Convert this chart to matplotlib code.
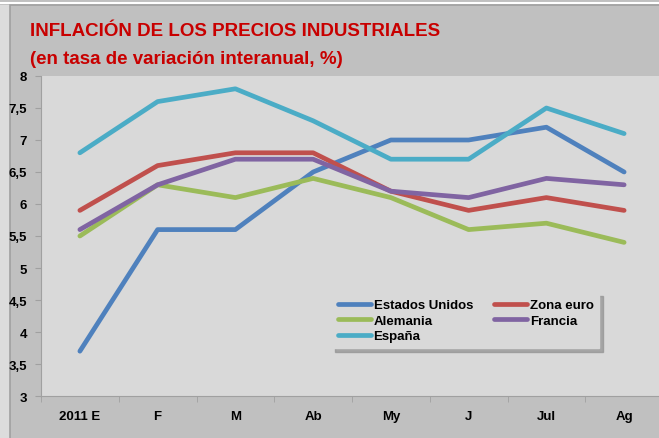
import matplotlib.pyplot as plt
from matplotlib.patches import Rectangle

meses = ['2011 E', 'F', 'M', 'Ab', 'My', 'J', 'Jul', 'Ag']
estados_unidos = [3.7, 5.6, 5.6, 6.5, 7.0, 7.0, 7.2, 6.5]
zona_euro = [5.9, 6.6, 6.8, 6.8, 6.2, 5.9, 6.1, 5.9]
alemania = [5.5, 6.3, 6.1, 6.4, 6.1, 5.6, 5.7, 5.4]
francia = [5.6, 6.3, 6.7, 6.7, 6.2, 6.1, 6.4, 6.3]
espana = [6.8, 7.6, 7.8, 7.3, 6.7, 6.7, 7.5, 7.1]

series = [
    ('Estados Unidos', estados_unidos, '#4F81BD'),
    ('Zona euro', zona_euro, '#C0504D'),
    ('Alemania', alemania, '#9BBB59'),
    ('Francia', francia, '#8064A2'),
    ('España', espana, '#4BACC6'),
]
yticks = [3, 3.5, 4, 4.5, 5, 5.5, 6, 6.5, 7, 7.5, 8]
FONT = 'Liberation Sans'

W, H = 659, 439
fig = plt.figure(figsize=(W / 100, H / 100), dpi=100)
fig.patch.set_facecolor('#c0c0c0')

# chart frame drawn in a background axes
bg = fig.add_axes([0, 0, 1, 1], zorder=-10)
bg.set_xlim(0, W)
bg.set_ylim(H, 0)
bg.axis('off')
bg.add_patch(Rectangle((0, 6), 10, H, facecolor='#dcdcdc', edgecolor='none'))
bg.add_patch(Rectangle((10, 6), W, H, facecolor='#c0c0c0', edgecolor='#a0a0a0', lw=1.2))
bg.plot([0, W], [4.2, 4.2], color='white', lw=1.5)

ax = fig.add_axes([41 / W, (H - 397) / H, (663 - 41) / W, (397 - 77) / H])
ax.set_facecolor('#d9d9d9')

x = range(len(meses))
lines = {}
for name, vals, col in series:
    lines[name], = ax.plot(x, vals, color=col, lw=3.4, label=name, solid_capstyle='round')

ax.set_xlim(-0.5, len(meses) - 0.5)
ax.set_ylim(3, 8)
ax.set_yticks(yticks)
ax.set_yticklabels([('%g' % v).replace('.', ',') for v in yticks])
ax.set_xticks(x)
ax.set_xticklabels(meses)
ax.set_xticks([i + 0.5 for i in range(-1, len(meses))], minor=True)
ax.tick_params(axis='x', which='major', length=0, pad=10)
ax.tick_params(axis='x', which='minor', length=4, color='#a0a0a0', direction='out')
ax.tick_params(axis='y', length=4, color='#a0a0a0', pad=6)
for lab in ax.get_xticklabels() + ax.get_yticklabels():
    lab.set_fontweight('bold')
    lab.set_fontsize(9.5)
    lab.set_family(FONT)
for s in ['top', 'right']:
    ax.spines[s].set_visible(False)
for s in ['left', 'bottom']:
    ax.spines[s].set_color('#a0a0a0')

fig.text(30 / W, (H - 36) / H, 'INFLACIÓN DE LOS PRECIOS INDUSTRIALES',
         color='#c80000', fontsize=13.5, fontweight='bold', family=FONT)
fig.text(30 / W, (H - 64) / H, '(en tasa de variación interanual, %)',
         color='#c80000', fontsize=13.5, fontweight='bold', family=FONT)

# legend: filled row by row like the original
order = ['Estados Unidos', 'Alemania', 'España', 'Zona euro', 'Francia']
leg = ax.legend([lines[n] for n in order], order, loc='upper left',
                bbox_to_anchor=(332 / W, (H - 294) / H),
                bbox_transform=fig.transFigure, ncol=2, frameon=True, fancybox=False,
                handlelength=2.5, handletextpad=0.2, columnspacing=1.6,
                labelspacing=0.25, borderpad=0.45, borderaxespad=0,
                shadow={'ox': 2.5, 'oy': -2.5, 'color': '#909090', 'alpha': 0.7},
                prop={'weight': 'bold', 'size': 9.5, 'family': FONT})
leg.get_frame().set_facecolor('#d9d9d9')
leg.get_frame().set_edgecolor('#d9d9d9')
leg.get_frame().set_alpha(1)
leg.set_zorder(10)

fig.savefig('out.png', dpi=100, facecolor=fig.get_facecolor())
